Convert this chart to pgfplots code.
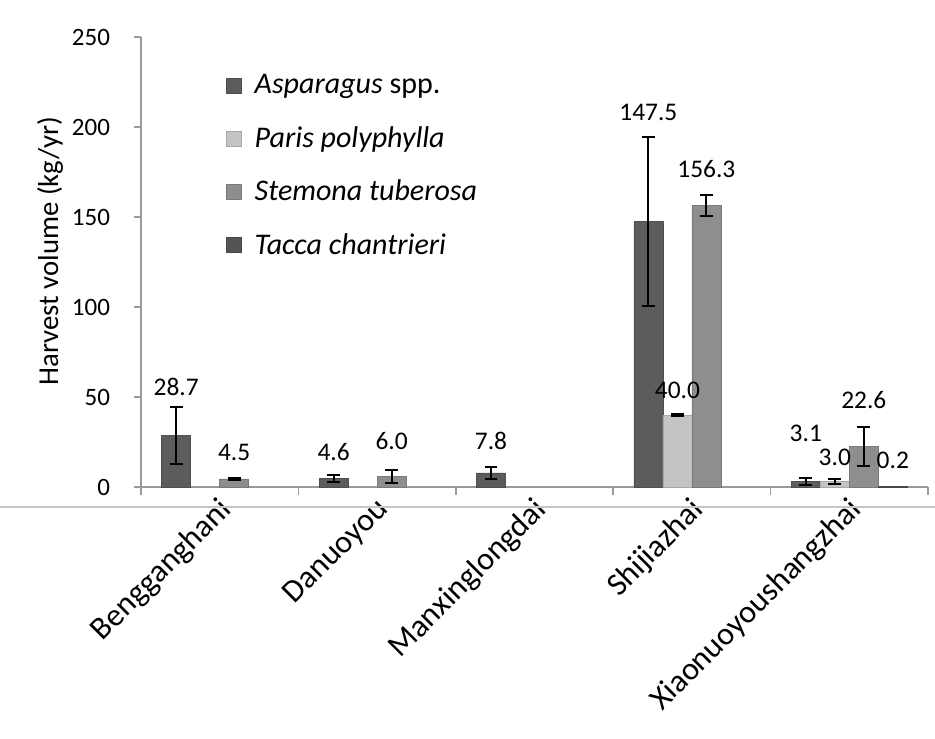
\documentclass[border=0pt]{standalone}
\usepackage{fontspec}
\setmainfont{Carlito}
\usepackage{pgfplots}
\pgfplotsset{compat=1.18}
\usetikzlibrary{calc}

\definecolor{asp}{HTML}{5C5C5C}
\definecolor{par}{HTML}{C4C4C4}
\definecolor{ste}{HTML}{8E8E8E}
\definecolor{tac}{HTML}{545454}

% x = village index, y = harvest, err = error bar, ly = height of the value label
\pgfplotstableread{
x y err ly label
0 28.7 16.0 55.6 28.7
1 4.6 2.0 19.4 4.6
2 7.8 3.2 25.6 7.8
3 147.5 47.0 208.3 147.5
4 3.1 1.8 30.0 3.1
}\asparagus
\pgfplotstableread{
x y err ly label
3 40.0 0.3 53.9 40.0
4 3.0 1.5 16.7 3.0
}\paris
\pgfplotstableread{
x y err ly label
0 4.5 0.5 19.4 4.5
1 6.0 3.7 25.6 6.0
3 156.3 6.0 176.7 156.3
4 22.6 11.0 48.3 22.6
}\stemona
\pgfplotstableread{
x y err ly label
4 0.2 0.0 15.0 0.2
}\tacca

\begin{document}
\begin{tikzpicture}
\begin{axis}[
    name=ax,
    scale only axis,
    width=393.5pt, height=225pt,
    ybar=0pt, bar width=14.5pt,
    xmin=-0.5, xmax=4.5,
    ymin=0, ymax=250,
    ytick={0,50,...,250},
    xtick={0,...,4},
    xticklabels={Bengganghani,Danuoyou,Manxinglongdai,Shijiazhai,Xiaonuoyoushangzhai},
    minor xtick={-0.5,0.5,...,4.5},
    major x tick style={draw=none},
    minor x tick style={draw=gray!80, line width=0.8pt},
    major y tick style={draw=gray!80, line width=0.8pt},
    major tick length=3.5pt, minor tick length=4pt,
    tick align=outside,
    axis lines*=left,
    axis line style={-, draw=gray!80, line width=0.8pt},
    clip=false,
    /pgf/number format/assume math mode=true,
    yticklabel style={font=\fontsize{12.5}{14}\selectfont, xshift=-8.5pt},
    xticklabel style={rotate=45, anchor=north east, xshift=1.9pt, yshift=3.8pt,
        font=\fontsize{16}{19}\selectfont},
    ylabel={Harvest volume (kg/yr)},
    ylabel style={at={(axis description cs:-0.1156,0.524)}, anchor=center,
        font=\fontsize{14.4}{17}\selectfont},
    legend style={draw=none, fill=none, at={(axis description cs:0.1,0.935)},
        anchor=north west, row sep=10.8pt, font=\fontsize{15}{18}\selectfont},
    legend cell align=left,
    legend image code/.code={
        \fill[#1] (0pt,-3.75pt) rectangle (7.5pt,3.75pt);
        \path (12pt,0pt);},
    error bars/y dir=both, error bars/y explicit,
    error bars/error bar style={black, line width=1pt},
    error bars/error mark options={black, rotate=90, mark size=3.2pt, line width=1pt},
    nodes near coords,
    point meta=explicit symbolic,
    visualization depends on={\thisrow{ly}-\thisrow{y} \as \dly},
    every node near coord/.append style={anchor=center, black,
        shift={(axis direction cs:0,\dly)}, font=\fontsize{12.7}{15}\selectfont},
]
\addplot[fill=asp, draw=asp!85!black, line width=0.3pt]
    table[x=x, y=y, y error=err, meta=label] {\asparagus};
\addlegendentry{\textit{Asparagus} spp.}
\addplot[fill=par, draw=par!85!black, line width=0.3pt]
    table[x=x, y=y, y error=err, meta=label] {\paris};
\addlegendentry{\textit{Paris polyphylla}}
\addplot[fill=ste, draw=ste!85!black, line width=0.3pt]
    table[x=x, y=y, y error=err, meta=label] {\stemona};
\addlegendentry{\textit{Stemona tuberosa}}
\addplot[fill=tac, draw=tac!85!black, line width=0.3pt, error bars/y dir=none]
    table[x=x, y=y, meta=label] {\tacca};
\addlegendentry{\textit{Tacca chantrieri}}
\end{axis}
\draw[gray!45, line width=0.6pt] ($(ax.south west)+(-70.5pt,-10pt)$) -- ($(ax.south east)+(3.5pt,-10pt)$);
\pgfresetboundingbox
\path[use as bounding box] ($(ax.south west)+(-70.5pt,-125.5pt)$) rectangle ($(ax.north east)+(3.5pt,18.5pt)$);
\end{tikzpicture}
\end{document}
